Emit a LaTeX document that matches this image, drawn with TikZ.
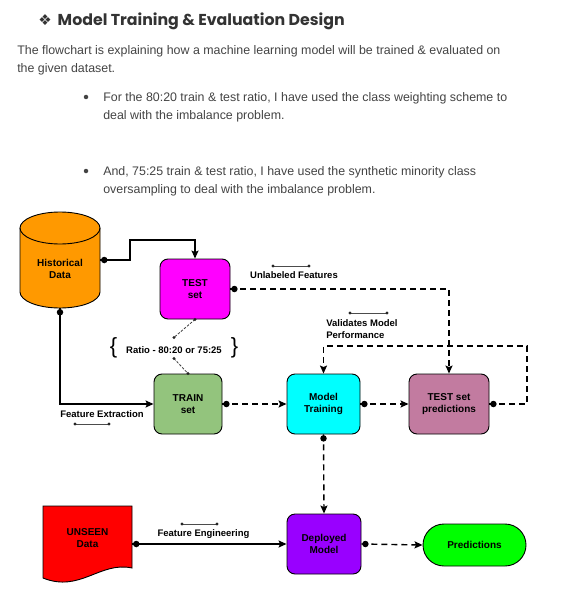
\documentclass[tikz,border=0pt]{standalone}
\usepackage{fontspec}
\setmainfont{Liberation Sans}
\newfontfamily\titlefont{Poppins}
\newfontfamily\symbfont{DejaVu Sans}
\usepackage{xcolor}
\usetikzlibrary{arrows.meta}

\definecolor{historange}{HTML}{FF9900}
\definecolor{testmagenta}{HTML}{FF00FF}
\definecolor{traingreen}{HTML}{93C47D}
\definecolor{modelcyan}{HTML}{00FFFF}
\definecolor{predmauve}{HTML}{C27BA0}
\definecolor{unseenred}{HTML}{FF0000}
\definecolor{deployviolet}{HTML}{9900FF}
\definecolor{outgreen}{HTML}{00FF00}
\definecolor{bodygray}{HTML}{434343}
\definecolor{titlegray}{HTML}{333333}

\newcommand{\boxfont}{\fontsize{10}{12}\selectfont\bfseries}
\newcommand{\lblfont}{\fontsize{9.5}{12}\selectfont\bfseries}

\begin{document}
\begin{tikzpicture}[
    x = 1pt, y = -1pt, % pixel grid, y runs downwards
    >= {Stealth[length=8pt,width=7pt,inset=1.5pt]}, % arrow head style
    semithick % line style
  ]

  \tikzstyle{box}=[
      draw = black,
      line width = 0.9pt,
      rounded corners = 8pt,
      minimum width = 72pt,
      minimum height = 60pt,
      align = center,
      font = \boxfont
  ]
  \tikzstyle{solidlink}=[->, line width=1.4pt]
  \tikzstyle{dashlink}=[solidlink, dash pattern=on 6pt off 4pt]
  \tikzstyle{linkdot}=[circle, fill=black, inner sep=0, minimum size=6.5pt]
  \tikzstyle{ratiolink}=[line width=0.8pt, gray!50!black, dash pattern=on 2.5pt off 1.5pt]
  \tikzstyle{tinydot}=[circle, fill=gray!30!black, inner sep=0, minimum size=3.2pt]
  \tikzstyle{handle}=[line width=0.6pt, black!70]
  \tikzstyle{bodytext}=[anchor=north west, align=left, inner sep=0, text=bodygray, font=\fontsize{12.4}{18}\selectfont]

\useasboundingbox (0,0) rectangle (564,599);

% heading and notes
\node[anchor=west, inner sep=0, text=titlegray] (title) at (38,21)
  {{\symbfont\fontsize{15}{18}\selectfont ❖}\hspace{6pt}{\titlefont\bfseries\fontsize{15.8}{20}\selectfont Model Training \& Evaluation Design}};
\node[bodytext] (intro) at (17,45)
  {The flowchart is explaining how a machine learning model will be trained \& evaluated on\\the given dataset.};
\node[circle, fill=bodygray, inner sep=0, minimum size=4.5pt] (dot1) at (86,97) {};
\node[bodytext] (note1) at (103,92)
  {For the 80:20 train \& test ratio, I have used the class weighting scheme to\\deal with the imbalance problem.};
\node[circle, fill=bodygray, inner sep=0, minimum size=4.5pt] (dot2) at (86,171) {};
\node[bodytext] (note2) at (103,166)
  {And, 75:25 train \& test ratio, I have used the synthetic minority class\\oversampling to deal with the imbalance problem.};

% data stores
\filldraw[fill=historange, line width=0.9pt] (20,228) -- (20,292)
  arc[start angle=180, end angle=360, x radius=40pt, y radius=16pt] -- (100,228)
  arc[start angle=0, end angle=180, x radius=40pt, y radius=16pt] -- cycle;
\draw[line width=0.9pt] (20,228) arc[start angle=180, end angle=360, x radius=40pt, y radius=16pt];
\node[minimum width=80pt, minimum height=96pt, inner sep=0,
  label={[font=\boxfont, align=center, yshift=-9pt]center:Historical\\Data}] (hist) at (60,260) {};

\filldraw[fill=unseenred, line width=0.9pt] (43,506) -- (132,506) -- (132,568)
  .. controls (100,561) and (80,593) .. (43,578) -- cycle;
\node[minimum width=89pt, minimum height=62pt, inner sep=0, align=center, font=\boxfont] (unseen) at (87.5,538) {UNSEEN\\Data};

% process boxes
\node[box, fill=testmagenta, minimum width=70pt] (test) at (195,289) {TEST\\set};
\node[box, fill=traingreen, minimum width=68pt] (train) at (188,404) {TRAIN\\set};
\node[box, fill=modelcyan, minimum width=73pt] (model) at (323.5,404) {Model\\Training};
\node[box, fill=predmauve, minimum width=80pt] (pred) at (449,404) {TEST set\\predictions};
\node[box, fill=deployviolet, minimum width=74pt] (dep) at (324,544) {Deployed\\Model};
\node[box, fill=outgreen, minimum width=103pt, minimum height=42pt, rounded corners=21pt] (out) at (474.5,545) {Predictions};

% edge labels
\node[font=\lblfont] (unlab) at (294,275) {Unlabeled Features};
\node[font=\lblfont, anchor=west, align=left, inner sep=0] (valid) at (326,329) {Validates Model\\Performance};
\node[font=\lblfont] (fext) at (102,414) {Feature Extraction};
\node[font=\lblfont] (feng) at (203.5,534) {Feature Engineering};
\node[inner sep=0] (ratio) at (174,348)
  {{\fontsize{22}{22}\selectfont\{}\hspace{9pt}{\lblfont Ratio - 80:20 or 75:25}\hspace{9pt}{\fontsize{22}{22}\selectfont\}}};

\draw[handle] ([xshift=-21pt,yshift=9pt]unlab.center) node[tinydot]{} -- ++(36,0) node[tinydot]{};
\draw[handle] ([xshift=24pt,yshift=16pt]valid.west) node[tinydot]{} -- ++(37,0) node[tinydot]{};
\draw[handle] ([xshift=-27pt,yshift=-10pt]fext.center) node[tinydot]{} -- ++(34,0) node[tinydot]{};
\draw[handle] ([xshift=-21.5pt,yshift=10pt]feng.center) node[tinydot]{} -- ++(35,0) node[tinydot]{};

% connectors
\coordinate (bend) at (130,240);
\coordinate (loop) at (527,346);
\draw[solidlink] (hist.east) node[linkdot, anchor=west]{} -| (bend) -| (test.north);
\draw[solidlink] (hist.south) node[linkdot, anchor=north]{} |- (train.west);
\draw[ratiolink] (test.south) node[tinydot]{} -- (ratio.north) node[tinydot]{};
\draw[ratiolink] (ratio.south) node[tinydot]{} -- (train.north) node[tinydot]{};
\draw[dashlink] (test.east) node[linkdot, anchor=west]{} -| (pred.north);
\draw[dashlink] (train.east) node[linkdot, anchor=west]{} -- (model.west);
\draw[dashlink] (model.east) node[linkdot, anchor=west]{} -- (pred.west);
\draw[dashlink] (pred.east) node[linkdot, anchor=west]{} -| (loop) -| (model.north);
\draw[dashlink] (model.south) node[linkdot, anchor=north]{} -- (dep.north);
\draw[solidlink] (unseen.east |- dep.west) node[linkdot, anchor=west]{} -- (dep.west);
\draw[dashlink] (dep.east) node[linkdot, anchor=west]{} -- (out.west);
\end{tikzpicture}
\end{document}
